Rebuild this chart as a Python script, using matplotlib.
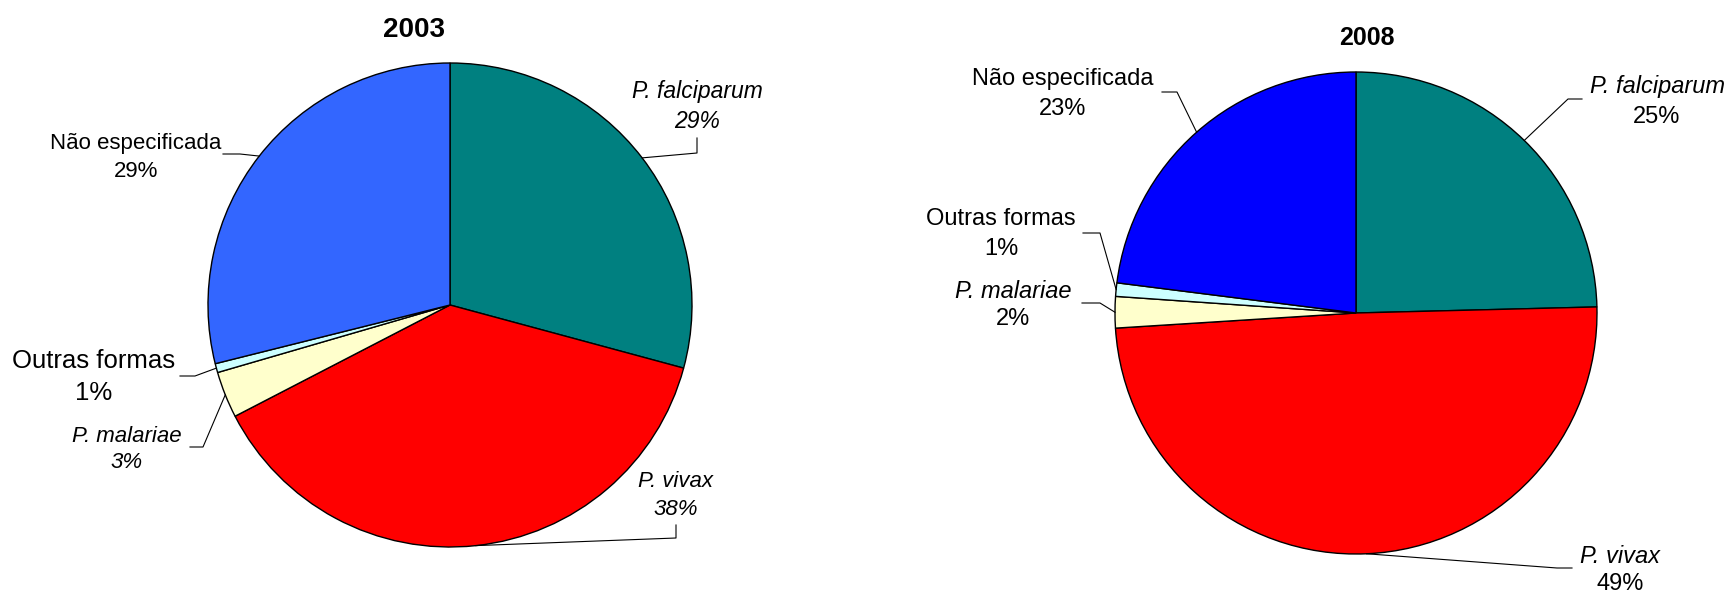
import numpy as np
import matplotlib.pyplot as plt

plt.rcParams['font.family'] = ['Liberation Sans', 'DejaVu Sans']

# dados
especies = ["P. falciparum", "P. vivax", "P. malariae", "Outras formas", "Não especificada"]
italico = [True, True, True, False, False]
valores_2003 = [29.2, 38.2, 3.1, 0.6, 28.9]
valores_2008 = [24.6, 49.4, 2.1, 0.9, 23.0]
cores_2003 = ["#008080", "#FF0000", "#FFFFCC", "#CCFFFF", "#3366FF"]
cores_2008 = ["#008080", "#FF0000", "#FFFFCC", "#CCFFFF", "#0000FF"]

W, H = 1734, 592


def Y(y):
    # coordenadas de pixel medidas a partir do topo
    return H - y


fig = plt.figure(figsize=(W / 100, H / 100), dpi=100)
ax = fig.add_axes([0, 0, 1, 1])


def pizza(valores, cores, centro, raio, rotulos, italico_pct):
    wedges, _ = ax.pie(valores, colors=cores, startangle=90, counterclock=False,
                       center=(centro[0], Y(centro[1])), radius=raio,
                       wedgeprops=dict(edgecolor="black", linewidth=1))
    for i, w in enumerate(wedges):
        (xn, bn, xp, bp), joelho, fim, tam = rotulos[i]
        ang = np.deg2rad((w.theta1 + w.theta2) / 2)
        xa = w.center[0] + w.r * np.cos(ang)
        ya = w.center[1] + w.r * np.sin(ang)
        ax.plot([xa, joelho[0], fim[0]], [ya, Y(joelho[1]), Y(fim[1])],
                color="black", lw=0.8)
        estilo = "italic" if italico[i] else "normal"
        ax.text(xn, Y(bn), especies[i], ha="center", va="baseline",
                fontsize=tam, style=estilo)
        estilo_pct = estilo if italico_pct else "normal"
        ax.text(xp, Y(bp), "%d%%" % round(valores[i]), ha="center", va="baseline",
                fontsize=tam, style=estilo_pct)


# posições dos rótulos: (x nome, linha base nome, x pct, linha base pct), joelho, fim, tamanho
rot_2003 = [
    ((697, 98, 697, 128), (697, 153), (697, 138), 16.5),
    ((676, 487, 676, 515), (676, 538), (676, 525), 16),
    ((127, 442, 127, 468), (203, 447), (190, 447), 16),
    ((94, 368, 94, 400), (195, 376), (180, 376), 18.5),
    ((136, 149, 136, 177), (240, 154), (223, 154), 16),
]
rot_2008 = [
    ((1657, 93, 1657, 123), (1568, 99), (1582, 99), 17),
    ((1620, 563, 1620, 590), (1557, 568), (1572, 568), 17),
    ((1013, 298, 1013, 325), (1100, 303), (1082, 303), 17),
    ((1001, 225, 1001, 255), (1100, 233), (1083, 233), 17),
    ((1063, 85, 1063, 115), (1177, 92), (1162, 92), 17),
]

pizza(valores_2003, cores_2003, (450, 305), 242, rot_2003, True)
pizza(valores_2008, cores_2008, (1356, 313), 241, rot_2008, False)

ax.text(414, Y(37), "2003", ha="center", va="baseline", fontsize=20, fontweight="bold")
ax.text(1367, Y(45), "2008", ha="center", va="baseline", fontsize=18, fontweight="bold")

ax.set_xlim(0, W)
ax.set_ylim(0, H)
ax.set_aspect("auto")
ax.axis("off")

fig.savefig("out.png", dpi=100)
